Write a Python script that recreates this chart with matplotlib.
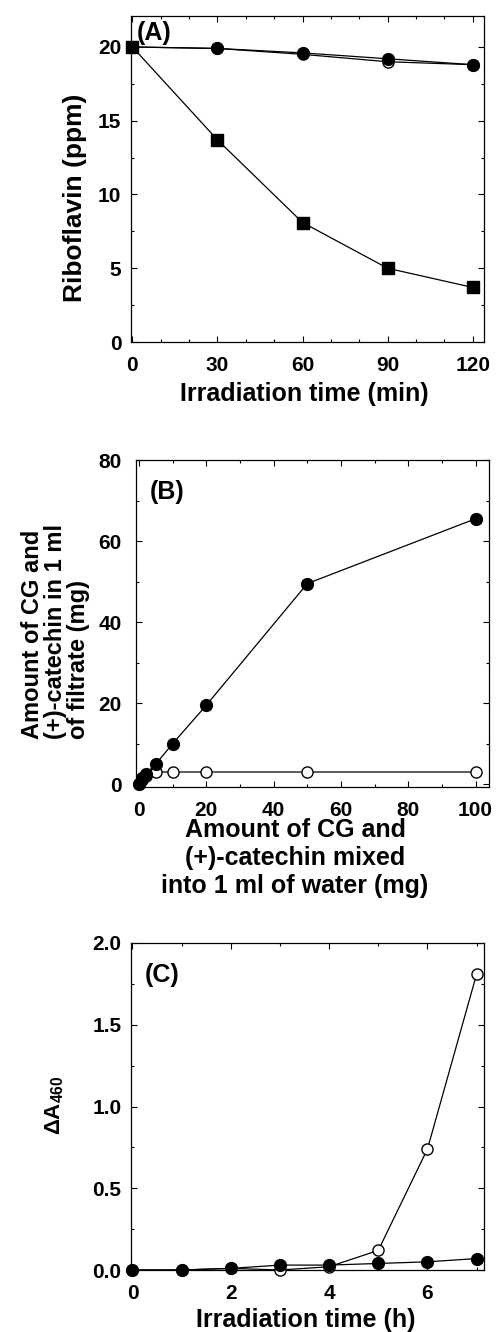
import matplotlib
matplotlib.use("Agg")
import matplotlib.pyplot as plt
from matplotlib.ticker import MultipleLocator

plt.rcParams['font.family'] = ['Liberation Sans', 'DejaVu Sans']
plt.rcParams['font.weight'] = 'bold'
plt.rcParams['mathtext.fontset'] = 'custom'
plt.rcParams['mathtext.rm'] = 'Liberation Sans:bold'
plt.rcParams['mathtext.it'] = 'Liberation Sans:bold'
plt.rcParams['mathtext.bf'] = 'Liberation Sans:bold'

# ---- Panel A data ----
a_time = [0, 30, 60, 90, 120]
a_square = [20.0, 13.7, 8.1, 5.0, 3.7]
a_filled = [20.0, 19.9, 19.6, 19.2, 18.8]
a_open = [20.0, 19.9, 19.5, 19.0, 18.8]
a_xticks = [0, 30, 60, 90, 120]
a_yticks = [0, 5, 10, 15, 20]

# ---- Panel B data ----
b_mixed = [0, 1, 2, 5, 10, 20, 50, 100]
b_filled = [0.0, 1.5, 2.5, 5.0, 10.0, 19.5, 49.5, 65.5]
b_open = [0.0, 1.0, 2.0, 3.0, 3.0, 3.0, 3.0, 3.0]
b_xticks = [0, 20, 40, 60, 80, 100]
b_yticks = [0, 20, 40, 60, 80]

# ---- Panel C data ----
c_time = [0, 1, 2, 3, 4, 5, 6, 7]
c_open = [0.0, 0.0, 0.01, 0.0, 0.02, 0.12, 0.74, 1.81]
c_filled = [0.0, 0.0, 0.01, 0.03, 0.03, 0.04, 0.05, 0.07]
c_xticks = [0, 2, 4, 6]
c_yticks = [0.0, 0.5, 1.0, 1.5, 2.0]

W, H = 500, 1332
fig = plt.figure(figsize=(W / 100, H / 100), dpi=100)


def add_axes(l, r, t, b):
    return fig.add_axes([l / W, 1 - b / H, (r - l) / W, (b - t) / H])


def style(ax, ypad=7, xpad=10):
    ax.tick_params(which='both', direction='in', top=True, right=True,
                   labelsize=15, width=0.8)
    ax.tick_params(axis='x', which='major', pad=xpad)
    ax.tick_params(axis='y', which='major', pad=ypad)
    ax.tick_params(which='major', length=4)
    ax.tick_params(which='minor', length=2.5)
    for s in ax.spines.values():
        s.set_linewidth(0.9)
    for lab in ax.get_xticklabels() + ax.get_yticklabels():
        lab.set_fontweight('bold')


lw = 0.9
LABEL = 18

# Panel A
axA = add_axes(131, 484, 16, 342)
axA.plot(a_time, a_open, '-o', color='black', mfc='white', mec='black',
         ms=8, lw=lw, mew=1.0, zorder=3)
axA.plot(a_time, a_filled, '-o', color='black', ms=8.5, lw=lw, zorder=4)
axA.plot(a_time, a_square, '-s', color='black', ms=8, lw=lw, zorder=5,
         clip_on=False)
axA.set_xlim(-0.5, 124)
axA.set_ylim(0, 22.1)
axA.set_xticks(a_xticks)
axA.set_yticks(a_yticks)
axA.xaxis.set_minor_locator(MultipleLocator(10))
axA.yaxis.set_minor_locator(MultipleLocator(2.5))
style(axA)
axA.set_xlabel('Irradiation time (min)', fontsize=LABEL, fontweight='bold',
               va='center')
axA.xaxis.set_label_coords(0.491, -0.16)
axA.set_ylabel('Riboflavin (ppm)', fontsize=19, fontweight='bold',
               va='center')
axA.yaxis.set_label_coords(-0.159, 0.443)
axA.text(0.065, 0.948, '(A)', transform=axA.transAxes, fontsize=18,
         fontweight='bold', ha='center', va='center')

# Panel B
axB = add_axes(135.7, 489, 460, 787)
axB.plot(b_mixed, b_open, '-o', color='black', mfc='white', mec='black',
         ms=8, lw=lw, mew=1.0, zorder=3, clip_on=False)
axB.plot(b_mixed, b_filled, '-o', color='black', ms=8.5, lw=lw, zorder=4,
         clip_on=False)
axB.set_xlim(-1, 104)
axB.set_ylim(-0.7, 80)
axB.set_xticks(b_xticks)
axB.set_yticks(b_yticks)
axB.xaxis.set_minor_locator(MultipleLocator(10))
axB.yaxis.set_minor_locator(MultipleLocator(10))
style(axB, ypad=10)
axB.set_xlabel('Amount of CG and\n(+)-catechin mixed\ninto 1 ml of water (mg)',
               fontsize=LABEL, fontweight='bold', va='center', linespacing=1.2)
axB.xaxis.set_label_coords(0.451, -0.217)
axB.set_ylabel('Amount of CG and\n(+)-catechin in 1 ml\nof filtrate (mg)',
               fontsize=17, fontweight='bold', va='center',
               multialignment='left', linespacing=1.0)
axB.yaxis.set_label_coords(-0.228, 0.477)
axB.text(0.089, 0.902, '(B)', transform=axB.transAxes, fontsize=18,
         fontweight='bold', ha='center', va='center')

# Panel C
axC = add_axes(131, 484, 943, 1270)
axC.plot(c_time, c_open, '-o', color='black', mfc='white', mec='black',
         ms=8, lw=lw, mew=1.0, zorder=3, clip_on=False)
axC.plot(c_time, c_filled, '-o', color='black', ms=8.5, lw=lw, zorder=4,
         clip_on=False)
axC.set_xlim(-0.03, 7.15)
axC.set_ylim(0, 2.0)
axC.set_xticks(c_xticks)
axC.set_yticks(c_yticks)
axC.set_yticklabels([f'{v:.1f}' for v in c_yticks])
axC.xaxis.set_minor_locator(MultipleLocator(1))
axC.yaxis.set_minor_locator(MultipleLocator(0.25))
style(axC)
axC.set_xlabel('Irradiation time (h)', fontsize=LABEL, fontweight='bold',
               va='center')
axC.xaxis.set_label_coords(0.496, -0.153)
axC.set_ylabel('ΔA$_{460}$', fontsize=16, fontweight='bold', va='center')
axC.yaxis.set_label_coords(-0.215, 0.505)
axC.text(0.088, 0.902, '(C)', transform=axC.transAxes, fontsize=18,
         fontweight='bold', ha='center', va='center')

fig.savefig('out.png', dpi=100)
